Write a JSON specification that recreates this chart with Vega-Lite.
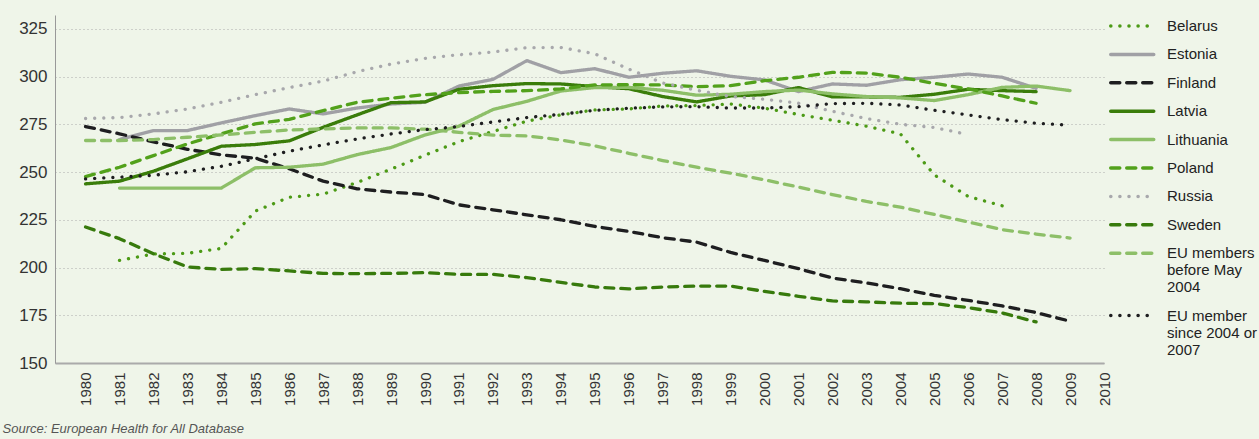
{
  "$schema": "https://vega.github.io/schema/vega-lite/v6.json",
  "width": 1049,
  "height": 348,
  "autosize": {"type": "none"},
  "padding": {"left": 55, "top": 15, "right": 155, "bottom": 76},
  "background": "#eff5e9",
  "config": {"view": {"stroke": null}, "font": "Liberation Sans"},
  "data": {"values": [
    {"c":"Belarus","y":1981,"v":203.7},{"c":"Belarus","y":1982,"v":207.1},{"c":"Belarus","y":1983,"v":207.4},{"c":"Belarus","y":1984,"v":210.0},{"c":"Belarus","y":1985,"v":229.5},{"c":"Belarus","y":1986,"v":236.8},{"c":"Belarus","y":1987,"v":238.4},{"c":"Belarus","y":1988,"v":244.5},{"c":"Belarus","y":1989,"v":251.5},{"c":"Belarus","y":1990,"v":258.8},{"c":"Belarus","y":1991,"v":265.9},{"c":"Belarus","y":1992,"v":271.2},{"c":"Belarus","y":1993,"v":276.6},{"c":"Belarus","y":1994,"v":279.9},{"c":"Belarus","y":1995,"v":282.5},{"c":"Belarus","y":1996,"v":283.0},{"c":"Belarus","y":1997,"v":284.6},{"c":"Belarus","y":1998,"v":284.8},{"c":"Belarus","y":1999,"v":285.6},{"c":"Belarus","y":2000,"v":283.4},{"c":"Belarus","y":2001,"v":280.1},{"c":"Belarus","y":2002,"v":277.1},{"c":"Belarus","y":2003,"v":274.0},{"c":"Belarus","y":2004,"v":270.0},{"c":"Belarus","y":2005,"v":248.5},{"c":"Belarus","y":2006,"v":237.2},{"c":"Belarus","y":2007,"v":232.3},
    {"c":"Estonia","y":1981,"v":267.0},{"c":"Estonia","y":1982,"v":271.7},{"c":"Estonia","y":1983,"v":271.7},{"c":"Estonia","y":1984,"v":275.7},{"c":"Estonia","y":1985,"v":279.5},{"c":"Estonia","y":1986,"v":283.0},{"c":"Estonia","y":1987,"v":280.4},{"c":"Estonia","y":1988,"v":283.5},{"c":"Estonia","y":1989,"v":285.6},{"c":"Estonia","y":1990,"v":286.5},{"c":"Estonia","y":1991,"v":295.0},{"c":"Estonia","y":1992,"v":298.5},{"c":"Estonia","y":1993,"v":308.3},{"c":"Estonia","y":1994,"v":302.0},{"c":"Estonia","y":1995,"v":304.1},{"c":"Estonia","y":1996,"v":299.6},{"c":"Estonia","y":1997,"v":301.7},{"c":"Estonia","y":1998,"v":303.0},{"c":"Estonia","y":1999,"v":300.1},{"c":"Estonia","y":2000,"v":298.2},{"c":"Estonia","y":2001,"v":292.1},{"c":"Estonia","y":2002,"v":296.1},{"c":"Estonia","y":2003,"v":295.4},{"c":"Estonia","y":2004,"v":298.3},{"c":"Estonia","y":2005,"v":299.6},{"c":"Estonia","y":2006,"v":301.3},{"c":"Estonia","y":2007,"v":299.6},{"c":"Estonia","y":2008,"v":293.8},
    {"c":"Finland","y":1980,"v":273.8},{"c":"Finland","y":1981,"v":270.0},{"c":"Finland","y":1982,"v":265.8},{"c":"Finland","y":1983,"v":261.9},{"c":"Finland","y":1984,"v":259.0},{"c":"Finland","y":1985,"v":257.2},{"c":"Finland","y":1986,"v":251.7},{"c":"Finland","y":1987,"v":245.2},{"c":"Finland","y":1988,"v":241.2},{"c":"Finland","y":1989,"v":239.5},{"c":"Finland","y":1990,"v":238.2},{"c":"Finland","y":1991,"v":232.8},{"c":"Finland","y":1992,"v":230.2},{"c":"Finland","y":1993,"v":227.6},{"c":"Finland","y":1994,"v":225.0},{"c":"Finland","y":1995,"v":221.5},{"c":"Finland","y":1996,"v":218.9},{"c":"Finland","y":1997,"v":215.6},{"c":"Finland","y":1998,"v":213.3},{"c":"Finland","y":1999,"v":207.9},{"c":"Finland","y":2000,"v":203.7},{"c":"Finland","y":2001,"v":199.4},{"c":"Finland","y":2002,"v":194.5},{"c":"Finland","y":2003,"v":191.9},{"c":"Finland","y":2004,"v":188.9},{"c":"Finland","y":2005,"v":185.4},{"c":"Finland","y":2006,"v":182.8},{"c":"Finland","y":2007,"v":179.9},{"c":"Finland","y":2008,"v":176.4},{"c":"Finland","y":2009,"v":171.9},
    {"c":"Latvia","y":1980,"v":243.8},{"c":"Latvia","y":1981,"v":245.2},{"c":"Latvia","y":1982,"v":250.4},{"c":"Latvia","y":1983,"v":256.9},{"c":"Latvia","y":1984,"v":263.5},{"c":"Latvia","y":1985,"v":264.4},{"c":"Latvia","y":1986,"v":266.3},{"c":"Latvia","y":1987,"v":273.4},{"c":"Latvia","y":1988,"v":279.9},{"c":"Latvia","y":1989,"v":286.3},{"c":"Latvia","y":1990,"v":286.7},{"c":"Latvia","y":1991,"v":293.3},{"c":"Latvia","y":1992,"v":295.2},{"c":"Latvia","y":1993,"v":296.3},{"c":"Latvia","y":1994,"v":296.1},{"c":"Latvia","y":1995,"v":294.7},{"c":"Latvia","y":1996,"v":293.6},{"c":"Latvia","y":1997,"v":289.5},{"c":"Latvia","y":1998,"v":286.7},{"c":"Latvia","y":1999,"v":289.8},{"c":"Latvia","y":2000,"v":290.5},{"c":"Latvia","y":2001,"v":294.2},{"c":"Latvia","y":2002,"v":289.3},{"c":"Latvia","y":2003,"v":289.3},{"c":"Latvia","y":2004,"v":289.1},{"c":"Latvia","y":2005,"v":290.7},{"c":"Latvia","y":2006,"v":293.3},{"c":"Latvia","y":2007,"v":292.6},{"c":"Latvia","y":2008,"v":292.1},
    {"c":"Lithuania","y":1981,"v":241.6},{"c":"Lithuania","y":1982,"v":241.6},{"c":"Lithuania","y":1983,"v":241.6},{"c":"Lithuania","y":1984,"v":241.6},{"c":"Lithuania","y":1985,"v":252.2},{"c":"Lithuania","y":1986,"v":252.5},{"c":"Lithuania","y":1987,"v":254.1},{"c":"Lithuania","y":1988,"v":259.1},{"c":"Lithuania","y":1989,"v":262.8},{"c":"Lithuania","y":1990,"v":269.4},{"c":"Lithuania","y":1991,"v":274.0},{"c":"Lithuania","y":1992,"v":282.7},{"c":"Lithuania","y":1993,"v":287.0},{"c":"Lithuania","y":1994,"v":292.4},{"c":"Lithuania","y":1995,"v":294.2},{"c":"Lithuania","y":1996,"v":294.3},{"c":"Lithuania","y":1997,"v":292.8},{"c":"Lithuania","y":1998,"v":290.2},{"c":"Lithuania","y":1999,"v":290.7},{"c":"Lithuania","y":2000,"v":292.1},{"c":"Lithuania","y":2001,"v":292.9},{"c":"Lithuania","y":2002,"v":290.9},{"c":"Lithuania","y":2003,"v":289.5},{"c":"Lithuania","y":2004,"v":288.8},{"c":"Lithuania","y":2005,"v":287.4},{"c":"Lithuania","y":2006,"v":290.5},{"c":"Lithuania","y":2007,"v":294.3},{"c":"Lithuania","y":2008,"v":295.0},{"c":"Lithuania","y":2009,"v":292.6},
    {"c":"Poland","y":1980,"v":247.6},{"c":"Poland","y":1981,"v":252.5},{"c":"Poland","y":1982,"v":258.6},{"c":"Poland","y":1983,"v":264.7},{"c":"Poland","y":1984,"v":270.0},{"c":"Poland","y":1985,"v":275.2},{"c":"Poland","y":1986,"v":277.6},{"c":"Poland","y":1987,"v":282.1},{"c":"Poland","y":1988,"v":286.5},{"c":"Poland","y":1989,"v":288.6},{"c":"Poland","y":1990,"v":290.5},{"c":"Poland","y":1991,"v":291.6},{"c":"Poland","y":1992,"v":292.2},{"c":"Poland","y":1993,"v":292.6},{"c":"Poland","y":1994,"v":293.5},{"c":"Poland","y":1995,"v":295.6},{"c":"Poland","y":1996,"v":295.7},{"c":"Poland","y":1997,"v":295.6},{"c":"Poland","y":1998,"v":294.7},{"c":"Poland","y":1999,"v":295.2},{"c":"Poland","y":2000,"v":297.8},{"c":"Poland","y":2001,"v":299.6},{"c":"Poland","y":2002,"v":302.2},{"c":"Poland","y":2003,"v":301.8},{"c":"Poland","y":2004,"v":299.6},{"c":"Poland","y":2005,"v":296.4},{"c":"Poland","y":2006,"v":293.5},{"c":"Poland","y":2007,"v":289.8},{"c":"Poland","y":2008,"v":286.0},
    {"c":"Russia","y":1980,"v":278.0},{"c":"Russia","y":1981,"v":278.5},{"c":"Russia","y":1982,"v":280.4},{"c":"Russia","y":1983,"v":283.0},{"c":"Russia","y":1984,"v":286.5},{"c":"Russia","y":1985,"v":290.5},{"c":"Russia","y":1986,"v":294.2},{"c":"Russia","y":1987,"v":297.6},{"c":"Russia","y":1988,"v":302.5},{"c":"Russia","y":1989,"v":306.5},{"c":"Russia","y":1990,"v":309.5},{"c":"Russia","y":1991,"v":311.4},{"c":"Russia","y":1992,"v":312.8},{"c":"Russia","y":1993,"v":315.1},{"c":"Russia","y":1994,"v":315.2},{"c":"Russia","y":1995,"v":311.9},{"c":"Russia","y":1996,"v":303.9},{"c":"Russia","y":1997,"v":296.6},{"c":"Russia","y":1998,"v":292.8},{"c":"Russia","y":1999,"v":289.5},{"c":"Russia","y":2000,"v":288.1},{"c":"Russia","y":2001,"v":286.0},{"c":"Russia","y":2002,"v":281.8},{"c":"Russia","y":2003,"v":278.0},{"c":"Russia","y":2004,"v":275.0},{"c":"Russia","y":2005,"v":273.3},{"c":"Russia","y":2006,"v":269.6},
    {"c":"Sweden","y":1980,"v":221.2},{"c":"Sweden","y":1981,"v":215.1},{"c":"Sweden","y":1982,"v":207.2},{"c":"Sweden","y":1983,"v":200.3},{"c":"Sweden","y":1984,"v":199.0},{"c":"Sweden","y":1985,"v":199.4},{"c":"Sweden","y":1986,"v":198.2},{"c":"Sweden","y":1987,"v":196.9},{"c":"Sweden","y":1988,"v":196.8},{"c":"Sweden","y":1989,"v":196.9},{"c":"Sweden","y":1990,"v":197.3},{"c":"Sweden","y":1991,"v":196.4},{"c":"Sweden","y":1992,"v":196.4},{"c":"Sweden","y":1993,"v":194.7},{"c":"Sweden","y":1994,"v":192.2},{"c":"Sweden","y":1995,"v":189.8},{"c":"Sweden","y":1996,"v":188.8},{"c":"Sweden","y":1997,"v":189.8},{"c":"Sweden","y":1998,"v":190.3},{"c":"Sweden","y":1999,"v":190.3},{"c":"Sweden","y":2000,"v":187.5},{"c":"Sweden","y":2001,"v":184.9},{"c":"Sweden","y":2002,"v":182.5},{"c":"Sweden","y":2003,"v":182.0},{"c":"Sweden","y":2004,"v":181.3},{"c":"Sweden","y":2005,"v":181.1},{"c":"Sweden","y":2006,"v":179.0},{"c":"Sweden","y":2007,"v":176.2},{"c":"Sweden","y":2008,"v":171.5},
    {"c":"EU members before May 2004","y":1980,"v":266.5},{"c":"EU members before May 2004","y":1981,"v":266.5},{"c":"EU members before May 2004","y":1982,"v":267.0},{"c":"EU members before May 2004","y":1983,"v":268.2},{"c":"EU members before May 2004","y":1984,"v":269.4},{"c":"EU members before May 2004","y":1985,"v":270.8},{"c":"EU members before May 2004","y":1986,"v":272.0},{"c":"EU members before May 2004","y":1987,"v":272.6},{"c":"EU members before May 2004","y":1988,"v":273.1},{"c":"EU members before May 2004","y":1989,"v":273.1},{"c":"EU members before May 2004","y":1990,"v":272.4},{"c":"EU members before May 2004","y":1991,"v":270.8},{"c":"EU members before May 2004","y":1992,"v":269.3},{"c":"EU members before May 2004","y":1993,"v":268.9},{"c":"EU members before May 2004","y":1994,"v":266.8},{"c":"EU members before May 2004","y":1995,"v":263.7},{"c":"EU members before May 2004","y":1996,"v":259.8},{"c":"EU members before May 2004","y":1997,"v":256.0},{"c":"EU members before May 2004","y":1998,"v":252.5},{"c":"EU members before May 2004","y":1999,"v":249.4},{"c":"EU members before May 2004","y":2000,"v":245.9},{"c":"EU members before May 2004","y":2001,"v":242.1},{"c":"EU members before May 2004","y":2002,"v":238.2},{"c":"EU members before May 2004","y":2003,"v":234.6},{"c":"EU members before May 2004","y":2004,"v":231.6},{"c":"EU members before May 2004","y":2005,"v":227.8},{"c":"EU members before May 2004","y":2006,"v":223.8},{"c":"EU members before May 2004","y":2007,"v":219.8},{"c":"EU members before May 2004","y":2008,"v":217.5},{"c":"EU members before May 2004","y":2009,"v":215.4},
    {"c":"EU member since 2004 or 2007","y":1980,"v":246.4},{"c":"EU member since 2004 or 2007","y":1981,"v":247.3},{"c":"EU member since 2004 or 2007","y":1982,"v":248.3},{"c":"EU member since 2004 or 2007","y":1983,"v":250.1},{"c":"EU member since 2004 or 2007","y":1984,"v":253.0},{"c":"EU member since 2004 or 2007","y":1985,"v":256.9},{"c":"EU member since 2004 or 2007","y":1986,"v":260.9},{"c":"EU member since 2004 or 2007","y":1987,"v":264.2},{"c":"EU member since 2004 or 2007","y":1988,"v":267.3},{"c":"EU member since 2004 or 2007","y":1989,"v":269.9},{"c":"EU member since 2004 or 2007","y":1990,"v":272.2},{"c":"EU member since 2004 or 2007","y":1991,"v":273.8},{"c":"EU member since 2004 or 2007","y":1992,"v":276.2},{"c":"EU member since 2004 or 2007","y":1993,"v":278.5},{"c":"EU member since 2004 or 2007","y":1994,"v":280.2},{"c":"EU member since 2004 or 2007","y":1995,"v":282.3},{"c":"EU member since 2004 or 2007","y":1996,"v":283.4},{"c":"EU member since 2004 or 2007","y":1997,"v":284.1},{"c":"EU member since 2004 or 2007","y":1998,"v":284.2},{"c":"EU member since 2004 or 2007","y":1999,"v":283.5},{"c":"EU member since 2004 or 2007","y":2000,"v":283.5},{"c":"EU member since 2004 or 2007","y":2001,"v":284.2},{"c":"EU member since 2004 or 2007","y":2002,"v":285.8},{"c":"EU member since 2004 or 2007","y":2003,"v":286.0},{"c":"EU member since 2004 or 2007","y":2004,"v":285.1},{"c":"EU member since 2004 or 2007","y":2005,"v":282.3},{"c":"EU member since 2004 or 2007","y":2006,"v":279.9},{"c":"EU member since 2004 or 2007","y":2007,"v":277.4},{"c":"EU member since 2004 or 2007","y":2008,"v":275.5},{"c":"EU member since 2004 or 2007","y":2009,"v":274.5}
  ]},
  "mark": {"type": "line", "strokeWidth": 3.3, "strokeCap": "round", "strokeJoin": "round"},
  "encoding": {
    "x": {
      "field": "y", "type": "quantitative",
      "scale": {"domain": [1979.1, 2010], "nice": false, "zero": false},
      "axis": {
        "values": [1980,1981,1982,1983,1984,1985,1986,1987,1988,1989,1990,1991,1992,1993,1994,1995,1996,1997,1998,1999,2000,2001,2002,2003,2004,2005,2006,2007,2008,2009,2010],
        "format": "d", "labelAngle": 270, "labelFontSize": 15, "labelColor": "#333",
        "labelPadding": 9, "labelOverlap": false, "labelBound": false, "labelFlush": false,
        "ticks": false, "grid": false, "domainColor": "#aaaaaa", "domainWidth": 2,
        "title": "Source: European Health for All Database",
        "titleX": -53, "titleY": 69, "titleAlign": "left", "titleBaseline": "alphabetic", "titleAngle": 0,
        "titleFontStyle": "italic", "titleFontWeight": "normal", "titleFontSize": 13, "titleColor": "#555"
      }
    },
    "y": {
      "field": "v", "type": "quantitative",
      "scale": {"domain": [150, 332.2], "nice": false, "zero": false},
      "axis": {
        "values": [150,175,200,225,250,275,300,325],
        "labelFontSize": 17, "labelColor": "#333", "labelPadding": 8,
        "ticks": false, "domainColor": "#999999", "domainWidth": 1,
        "grid": true, "gridDash": [1,3], "gridColor": "#aaaaaa", "gridWidth": 1,
        "title": null
      }
    },
    "color": {
      "field": "c", "type": "nominal",
      "scale": {
        "domain": ["Belarus","Estonia","Finland","Latvia","Lithuania","Poland","Russia","Sweden","EU members before May 2004","EU member since 2004 or 2007"],
        "range": ["#4c9a16","#a0a0a5","#1e1e20","#3a7d0a","#8dbf68","#52a11b","#a8a8ac","#377a0c","#8dbf68","#1e1e20"]
      },
      "legend": {
        "orient": "none", "legendX": 1054, "legendY": -1.5, "title": null, "padding": 0,
        "symbolType": "M-1,0H3", "symbolSize": 462, "symbolStrokeWidth": 3.5,
        "labelOffset": 33, "labelFontSize": 15, "labelColor": "#222", "labelLimit": 200, "rowPadding": 7.4,
        "labelExpr": "datum.label == 'EU members before May 2004' ? ['EU members', 'before May', '2004'] : (datum.label == 'EU member since 2004 or 2007' ? ['EU member', 'since 2004 or', '2007'] : datum.label)",
        "encode": {"symbols": {"update": {"strokeCap": {"value": "round"}}}}
      }
    },
    "strokeDash": {
      "field": "c", "type": "nominal",
      "scale": {
        "domain": ["Belarus","Estonia","Finland","Latvia","Lithuania","Poland","Russia","Sweden","EU members before May 2004","EU member since 2004 or 2007"],
        "range": [[0.1,9],[1,0],[9,7],[1,0],[1,0],[9,7],[0.1,9],[9,7],[9,7],[0.1,9]]
      },
      "legend": {
        "orient": "none", "legendX": 1054, "legendY": -1.5, "title": null, "padding": 0,
        "symbolType": "M-1,0H3", "symbolSize": 462, "symbolStrokeWidth": 3.5,
        "labelOffset": 33, "labelFontSize": 15, "labelColor": "#222", "labelLimit": 200, "rowPadding": 7.4,
        "labelExpr": "datum.label == 'EU members before May 2004' ? ['EU members', 'before May', '2004'] : (datum.label == 'EU member since 2004 or 2007' ? ['EU member', 'since 2004 or', '2007'] : datum.label)",
        "encode": {"symbols": {"update": {"strokeCap": {"value": "round"}}}}
      }
    }
  }
}
